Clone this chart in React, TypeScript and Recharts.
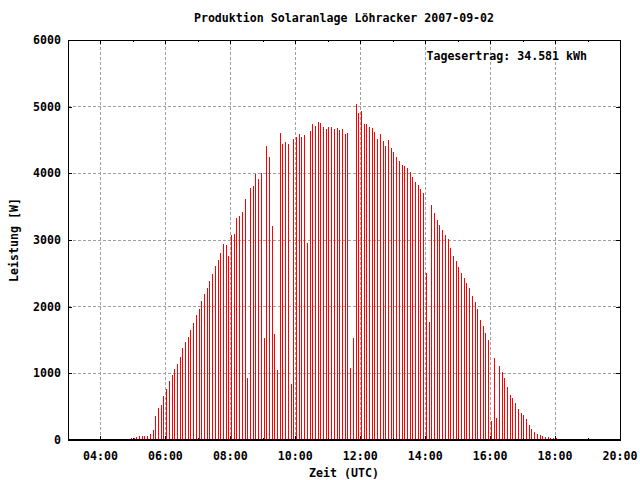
import React from 'react';
import { BarChart, Bar, XAxis, YAxis, CartesianGrid, ReferenceLine, ReferenceArea, Label } from 'recharts';

// Sampling grid of the logger: first sample 04:47 UTC, one sample every 5 minutes
const startMinute = 4 * 60 + 47;
const stepMinutes = 5;

// Power readings [W]
const power: number[] = [
  15, 15, 30, 30, 45, 60, 60, 60, 60, 90, 150,
  358, 478, 522, 657, 766, 881, 980, 1060, 1134, 1239,
  1373, 1463, 1552, 1657, 1761, 1881, 1970, 2090, 2194, 2284,
  2388, 2493, 2612, 2701, 2806, 2940, 2925, 2761,
  3075, 3090, 3328, 3358, 3418, 3612, 925, 3776, 3806, 3985,
  3910, 4000, 1537, 4403, 4239, 3209, 1597, 1045, 4612, 4433,
  4463, 4433, 836, 4522, 4552, 4597, 4552, 4582, 2955, 4642,
  4746, 4716, 4776, 4761, 4701, 4672, 4701, 4701, 4672, 4687,
  4657,
  4672, 4597, 4612, 1075, 1537, 5045, 4910, 4940, 4746, 4746,
  4701, 4687, 4627, 4522, 4597, 4478, 4403, 4493, 4373, 4313,
  4239, 4179, 4119, 4104, 4075, 4015, 3940, 3866, 3821, 3761,
  3701, 2507, 1776, 3522, 3403, 3298, 3224, 3149, 3075, 3015,
  2881,
  2761, 2687, 2597, 2507, 2433, 2358, 2284, 2164, 2075, 1970,
  1806, 1716, 1612, 1507, 284, 1224, 328, 1104, 1015, 925,
  791, 672, 627, 552, 463, 403, 373, 313, 224, 164,
  119, 90, 75, 60, 45, 45, 30, 30, 30, 15,
];

const xTicks = [4, 5, 6, 7, 8, 9, 10, 11, 12, 13, 14, 15, 16, 17, 18, 19, 20];
const gridHours = [4, 6, 8, 10, 12, 14, 16, 18];
const yTicks = [0, 1000, 2000, 3000, 4000, 5000, 6000];

const titleText = 'Produktion Solaranlage Löhracker 2007-09-02';
const yieldText = 'Tagesertrag: 34.581 kWh';
const xLabelText = 'Zeit (UTC)';
const yLabelText = 'Leistung [W]';

const data = power.map((w, i) => ({ t: (startMinute + i * stepMinutes) / 60, w }));

const FONT = '"DejaVu Sans Mono", "Liberation Mono", monospace';
const FS = 11.6;
const PLOT_LEFT = 68;
const PLOT_RIGHT = 620;
const PLOT_TOP = 40;
const PLOT_BOTTOM = 440;

const fmtHour = (h: number) => `${h < 10 ? '0' : ''}${h}:00`;

const XTick = (props: any) => {
  const { x, payload } = props;
  const h = payload.value as number;
  const major = h % 2 === 0;
  const len = major ? 4 : 2;
  const xx = Math.round(x);
  return (
    <g>
      {h < 20 && (
        <>
          <line x1={xx} x2={xx} y1={PLOT_BOTTOM} y2={PLOT_BOTTOM - len} stroke="#000" />
          <line x1={xx} x2={xx} y1={PLOT_TOP} y2={PLOT_TOP + len} stroke="#000" />
        </>
      )}
      {major && (
        <text x={x} y={PLOT_BOTTOM + 20} textAnchor="middle" fontFamily={FONT} fontWeight="bold" fontSize={FS} fill="#000">
          {fmtHour(h)}
        </text>
      )}
    </g>
  );
};

const YTick = (props: any) => {
  const { y, payload } = props;
  const yy = Math.round(y);
  return (
    <g>
      <line x1={PLOT_LEFT} x2={PLOT_LEFT + 4} y1={yy} y2={yy} stroke="#000" />
      <line x1={PLOT_RIGHT} x2={PLOT_RIGHT - 4} y1={yy} y2={yy} stroke="#000" />
      <text x={61} y={y} dy={4} textAnchor="end" fontFamily={FONT} fontWeight="bold" fontSize={FS} fill="#000">
        {payload.value}
      </text>
    </g>
  );
};

const BarShape = (props: any) => {
  const { x, y, width, height } = props;
  if (!height || height <= 0) return null;
  return <rect x={x} y={y} width={width} height={height} fill="#ff0000" shapeRendering="crispEdges" />;
};

export default function App() {
  return (
    <div className="sc" style={{ position: 'absolute', left: 0, top: 0, width: 640, height: 480, background: '#fff' }}>
      <style>{'.sc svg line, .sc svg path, .sc svg rect { shape-rendering: crispEdges; }'}</style>
      <BarChart width={640} height={480} data={data} margin={{ top: 40, right: 20, bottom: 0, left: 0 }} barCategoryGap={0}>
        <CartesianGrid vertical={false} stroke="#a0a0a0" strokeDasharray="3 2" />
        {gridHours.map((h) => (
          <ReferenceLine key={h} x={h} stroke="#a0a0a0" strokeDasharray="3 2" />
        ))}
        <XAxis
          dataKey="t"
          type="number"
          domain={[3, 20]}
          allowDataOverflow
          ticks={xTicks}
          interval={0}
          height={40}
          tickSize={0}
          tickMargin={0}
          axisLine={false}
          tickLine={false}
          tick={<XTick />}
        >
          <Label value={xLabelText} position="insideBottom" offset={3} fontFamily={FONT} fontWeight="bold" fontSize={FS} fill="#000" />
        </XAxis>
        <YAxis
          type="number"
          domain={[0, 6000]}
          ticks={yTicks}
          interval={0}
          width={68}
          tickSize={0}
          tickMargin={0}
          axisLine={false}
          tickLine={false}
          tick={<YTick />}
        >
          <Label value={yLabelText} angle={-90} position="insideLeft" offset={14} style={{ textAnchor: 'middle' }} fontFamily={FONT} fontWeight="bold" fontSize={FS} fill="#000" />
        </YAxis>
        <Bar dataKey="w" fill="#ff0000" barSize={1} isAnimationActive={false} shape={<BarShape />} />
        <ReferenceArea x1={3} x2={20} y1={0} y2={6000} fill="none" stroke="#000" strokeWidth={1} ifOverflow="visible" />
        <ReferenceLine y={0} stroke="#000" strokeWidth={2} />
      </BarChart>
      <div style={{ position: 'absolute', left: PLOT_LEFT, width: PLOT_RIGHT - PLOT_LEFT, top: 11, lineHeight: '14px', textAlign: 'center', fontFamily: FONT, fontWeight: 'bold', fontSize: FS, color: '#000', whiteSpace: 'pre' }}>
        {titleText}
      </div>
      <div style={{ position: 'absolute', right: 53, top: 49, lineHeight: '14px', textAlign: 'right', fontFamily: FONT, fontWeight: 'bold', fontSize: FS, color: '#000', whiteSpace: 'pre' }}>
        {yieldText}
      </div>
    </div>
  );
}
